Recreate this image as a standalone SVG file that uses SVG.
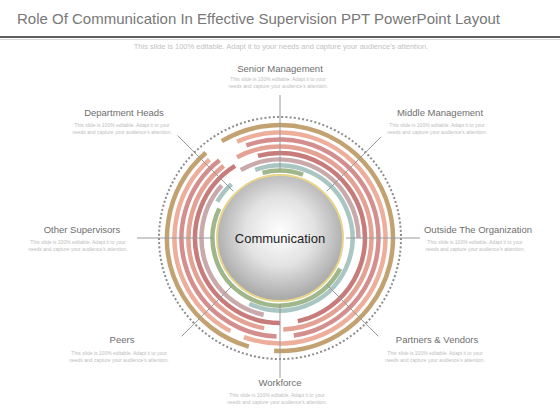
<svg xmlns="http://www.w3.org/2000/svg" width="560" height="420" viewBox="0 0 560 420">
<defs>
<radialGradient id="cg" cx="50%" cy="45%" r="55%">
<stop offset="0" stop-color="#ffffff"/>
<stop offset="0.5" stop-color="#e2e2e2"/>
<stop offset="1" stop-color="#a6a6a6"/>
</radialGradient>
<style>
.t{font-family:"Liberation Sans",Arial,sans-serif;}
.lbl{font-size:9.5px;fill:#6e6e6e;text-anchor:middle;}
.dsc{font-size:5px;fill:#bdbdbd;text-anchor:middle;}
.arc{fill:none;stroke-width:4.5;}
.sp{stroke:#9a9a9a;stroke-width:1;fill:none;}
</style>
</defs>
<rect width="560" height="420" fill="#ffffff"/>
<g id="header">
<text class="t" x="17" y="24" font-size="15" fill="#787878">Role Of Communication In Effective Supervision PPT PowerPoint Layout</text>
<line x1="0" y1="37" x2="560" y2="37" stroke="#5e5e5e" stroke-width="2"/>
<line x1="0" y1="39.5" x2="560" y2="39.5" stroke="#d8d8d8" stroke-width="1"/>
<text class="t" x="281" y="49" font-size="7.5" fill="#c2c2c2" text-anchor="middle">This slide is 100% editable. Adapt it to your needs and capture your audience's attention.</text>
</g>
<g id="rings">
<circle cx="280" cy="238" r="121" fill="none" stroke="#8c8c8c" stroke-width="2" stroke-dasharray="2 2.2"/>
<circle class="arc" cx="280" cy="238" r="113" stroke="#c3a272" stroke-width="5" pathLength="360" stroke-dasharray="214 13 123 10" transform="rotate(239 280 238)"/>
<circle class="arc" cx="280" cy="238" r="105.5" stroke="#eeae9c" pathLength="360" stroke-dasharray="224 8 110 18" transform="rotate(246 280 238)"/>
<circle class="arc" cx="280" cy="238" r="98.5" stroke="#d58e8e" pathLength="360" stroke-dasharray="192 10 140 18" transform="rotate(250 280 238)"/>
<circle class="arc" cx="280" cy="238" r="91.5" stroke="#e4a294" pathLength="360" stroke-dasharray="206 12 132 10" transform="rotate(242 280 238)"/>
<circle class="arc" cx="280" cy="238" r="85" stroke="#c77b7b" pathLength="360" stroke-dasharray="183 12 148 17" transform="rotate(255 280 238)"/>
<circle class="arc" cx="280" cy="238" r="78.5" stroke="#c9a9a9" pathLength="360" stroke-dasharray="120 102 120 18" transform="rotate(240 280 238)"/>
<circle class="arc" cx="280" cy="238" r="72.5" stroke="#a9c6c2" stroke-width="4" pathLength="360" stroke-dasharray="225 95 18 22" transform="rotate(250 280 238)"/>
<circle class="arc" cx="280" cy="238" r="67.5" stroke="#a0b78c" stroke-width="3.5" pathLength="360" stroke-dasharray="35 97 179 49" transform="rotate(255 280 238)"/>
</g>
<g id="connectors">
<line class="sp" x1="280" y1="172" x2="280" y2="95"/>
<line class="sp" x1="326.7" y1="191.3" x2="381.1" y2="136.9"/>
<line class="sp" x1="346" y1="238" x2="420" y2="238"/>
<line class="sp" x1="326.7" y1="284.7" x2="378.3" y2="336.3"/>
<line class="sp" x1="280" y1="304" x2="280" y2="378"/>
<line class="sp" x1="233.3" y1="284.7" x2="181.7" y2="336.3"/>
<line class="sp" x1="214" y1="238" x2="137" y2="238"/>
<line class="sp" x1="233.3" y1="191.3" x2="177.5" y2="135.5"/>
</g>
<g id="center">
<circle cx="280" cy="238" r="63" fill="url(#cg)" stroke="#e6d48a" stroke-width="2"/>
<text class="t" x="280" y="243" font-size="13" fill="#222222" text-anchor="middle">Communication</text>
</g>
<g id="senior-management">
<text class="t lbl" x="280" y="72">Senior Management</text>
<text class="t dsc" x="278" y="81">This slide is 100% editable. Adapt it to your</text>
<text class="t dsc" x="278" y="88">needs and capture your audience's attention.</text>
</g>
<g id="department-heads">
<text class="t lbl" x="124" y="116">Department Heads</text>
<text class="t dsc" x="122" y="127">This slide is 100% editable. Adapt it to your</text>
<text class="t dsc" x="122" y="134">needs and capture your audience's attention.</text>
</g>
<g id="middle-management">
<text class="t lbl" x="440" y="116">Middle Management</text>
<text class="t dsc" x="437" y="127">This slide is 100% editable. Adapt it to your</text>
<text class="t dsc" x="437" y="134">needs and capture your audience's attention.</text>
</g>
<g id="other-supervisors">
<text class="t lbl" x="82" y="233">Other Supervisors</text>
<text class="t dsc" x="78" y="244">This slide is 100% editable. Adapt it to your</text>
<text class="t dsc" x="78" y="251">needs and capture your audience's attention.</text>
</g>
<g id="outside-the-organization">
<text class="t lbl" x="478" y="233">Outside The Organization</text>
<text class="t dsc" x="475" y="244">This slide is 100% editable. Adapt it to your</text>
<text class="t dsc" x="475" y="251">needs and capture your audience's attention.</text>
</g>
<g id="peers">
<text class="t lbl" x="122" y="343">Peers</text>
<text class="t dsc" x="119" y="355">This slide is 100% editable. Adapt it to your</text>
<text class="t dsc" x="119" y="362">needs and capture your audience's attention.</text>
</g>
<g id="partners-vendors">
<text class="t lbl" x="437" y="343">Partners &amp; Vendors</text>
<text class="t dsc" x="435" y="355">This slide is 100% editable. Adapt it to your</text>
<text class="t dsc" x="435" y="362">needs and capture your audience's attention.</text>
</g>
<g id="workforce">
<text class="t lbl" x="280" y="386">Workforce</text>
<text class="t dsc" x="277" y="397">This slide is 100% editable. Adapt it to your</text>
<text class="t dsc" x="277" y="404">needs and capture your audience's attention.</text>
</g>
</svg>
